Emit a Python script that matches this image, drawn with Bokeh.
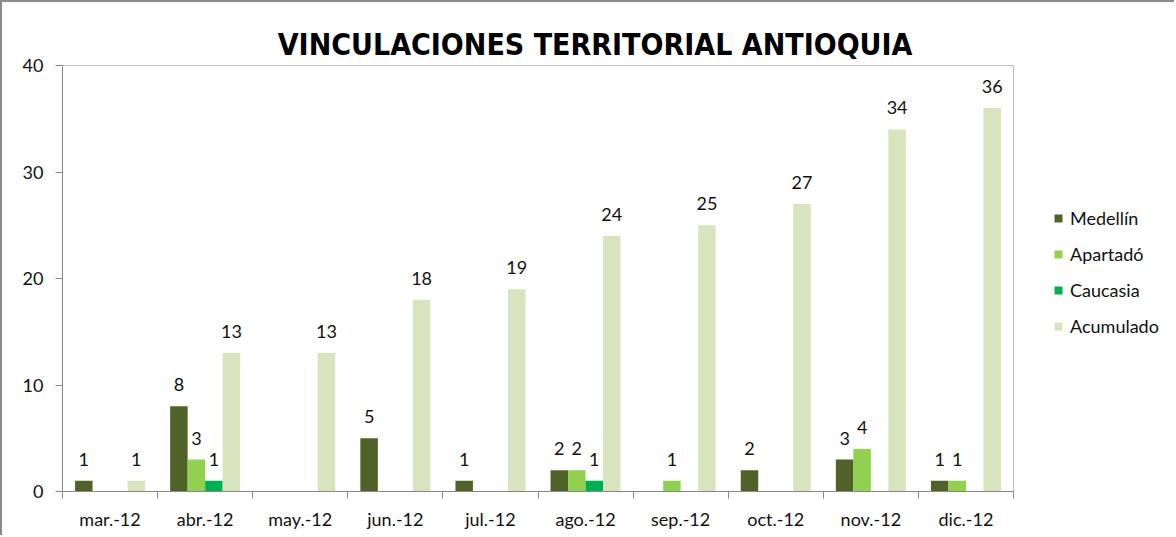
from bokeh.plotting import figure
from bokeh.models import (ColumnDataSource, Range1d, LinearAxis,
                          FixedTicker, Legend, LegendItem, Label)
from bokeh.transform import dodge
from bokeh.embed import file_html
from bokeh.resources import INLINE
from bokeh.core.properties import value

months = ["mar.-12", "abr.-12", "may.-12", "jun.-12", "jul.-12",
          "ago.-12", "sep.-12", "oct.-12", "nov.-12", "dic.-12"]
medellin = [1, 8, 0, 5, 1, 2, 0, 2, 3, 1]
apartado = [0, 3, 0, 0, 0, 2, 1, 0, 4, 1]
caucasia = [0, 1, 0, 0, 0, 1, 0, 0, 0, 0]
acumulado = [1, 13, 13, 18, 19, 24, 25, 27, 34, 36]
series_names = ["Medellín", "Apartadó", "Caucasia", "Acumulado"]
y_ticks = [0, 10, 20, 30, 40]
title_text = "VINCULACIONES TERRITORIAL ANTIOQUIA"

colors = ["#4F6228", "#92D050", "#00B050", "#D7E4BD"]
FONT = "Lato"
FS = "18px"

n = len(months)
y_max = y_ticks[-1]
centers = [i + 0.5 for i in range(n)]
boundaries = list(range(n + 1))

# canvas geometry (px)
W, H = 1174, 535
left, bottom = 60, 46
area_w, area_h = 951, 426
x_end = n * (W - left) / area_w
y_end = y_max * (H - bottom) / area_h
px = y_max / area_h  # data units per pixel (y)

p = figure(width=W, height=H, output_backend="svg", toolbar_location=None,
           x_range=Range1d(0, x_end), y_range=Range1d(0, y_end),
           x_axis_location=None, y_axis_location=None,
           min_border_left=left, min_border_right=0, min_border_top=0, min_border_bottom=bottom,
           background_fill_color="white", border_fill_color="white",
           styles={"border-top": "2px solid #8a8a8a", "border-left": "2px solid #8a8a8a"})
p.grid.visible = False
p.outline_line_color = None

# y axis
yax = LinearAxis(ticker=FixedTicker(ticks=y_ticks), bounds=(0, y_max))
yax.axis_line_color = "#888888"
yax.major_tick_line_color = "#888888"
yax.major_tick_out = 7
yax.major_tick_in = 0
yax.minor_tick_line_color = None
yax.major_label_text_font = FONT
yax.major_label_text_font_size = FS
yax.major_label_text_color = "#111111"
yax.major_label_standoff = 12
p.add_layout(yax, "left")

# x axis: labels at category centers, ticks at category boundaries
xc = LinearAxis(ticker=FixedTicker(ticks=centers, minor_ticks=boundaries), bounds=(0, n))
xc.major_label_overrides = {c: m for c, m in zip(centers, months)}
xc.axis_line_color = "#888888"
xc.major_tick_line_color = None
xc.major_tick_out = 0
xc.major_tick_in = 0
xc.minor_tick_line_color = "#888888"
xc.minor_tick_out = 7
xc.minor_tick_in = 0
xc.major_label_text_font = FONT
xc.major_label_text_font_size = FS
xc.major_label_text_color = "#111111"
xc.major_label_standoff = 9
p.add_layout(xc, "below")

# plot-area border (top and right)
p.line(x=[0, n, n], y=[y_max, y_max, 0], line_color="#BFBFBF", line_width=1)

w = 0.184
offsets = [-1.5 * w, -0.5 * w, 0.5 * w, 1.5 * w]
all_series = [medellin, apartado, caucasia, acumulado]
items = []
for name, vals, col, off in zip(series_names, all_series, colors, offsets):
    src = ColumnDataSource(dict(x=centers, y=vals))
    r = p.vbar(x=dodge("x", off), top="y", width=w, source=src,
               fill_color=col, line_color=None)
    items.append(LegendItem(label=name, renderers=[r]))
    lx = [c for c, v in zip(centers, vals) if v != 0]
    ly = [v for v in vals if v != 0]
    lsrc = ColumnDataSource(dict(x=lx, y=ly, t=[str(v) for v in ly]))
    p.text(x=dodge("x", off), y="y", text="t", source=lsrc,
           text_align="center", text_baseline="bottom", y_offset=-15,
           text_font=value(FONT), text_font_size=FS, text_color="#111111")

# title
p.add_layout(Label(x=5.6, y=y_max + 21 * px, text=title_text, text_align="center",
                   text_baseline="alphabetic", text_font="DejaVu Sans Condensed",
                   text_font_style="bold", text_font_size="30px", text_color="black"))

legend = Legend(items=items, location=(991, 154))
legend.border_line_color = None
legend.background_fill_alpha = 0
legend.label_text_font = FONT
legend.label_text_font_size = FS
legend.label_text_color = "#111111"
legend.glyph_width = 10
legend.glyph_height = 10
legend.label_height = 20
legend.label_standoff = 7
legend.spacing = 14
legend.padding = 0
legend.margin = 0
p.add_layout(legend, "center")

open("out.html", "w").write(file_html(p, INLINE))
